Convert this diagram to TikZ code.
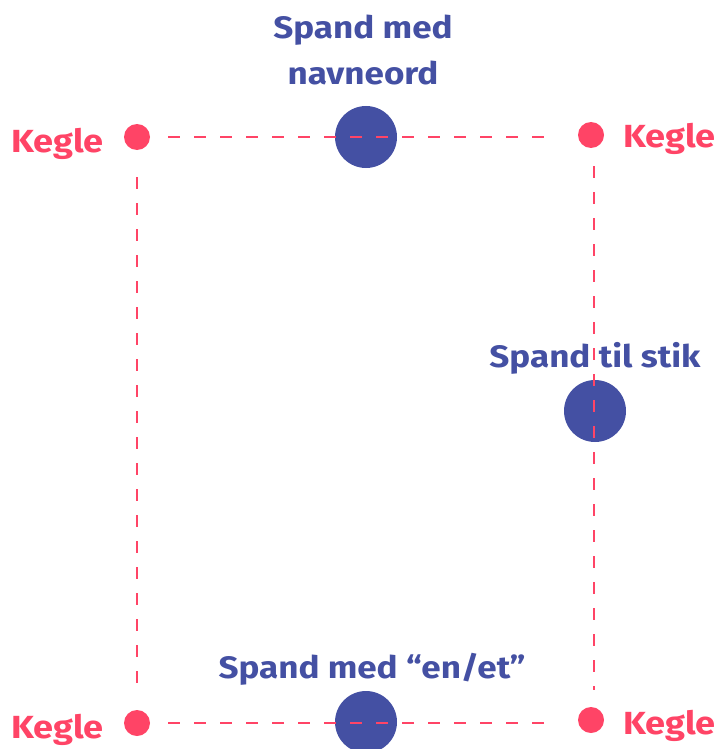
\documentclass[tikz,border=0pt]{standalone}
\usepackage{fontspec}
\setmainfont{Fira Sans}[FakeStretch=1.13]
\definecolor{kred}{HTML}{FF4466}
\definecolor{sblue}{HTML}{4450A3}
\begin{document}
\begin{tikzpicture}[x=1pt,y=-1pt,
  kegle/.style={circle,fill=kred,inner sep=0pt,minimum size=26pt},
  spand/.style={circle,fill=sblue,inner sep=0pt,minimum size=62pt},
  dashline/.style={draw=kred,line width=2.8pt,dash pattern=on 12pt off 14pt},
  klabel/.style={text=kred,font=\fontsize{32}{38}\selectfont\bfseries,inner sep=0pt},
  slabel/.style={text=sblue,font=\fontsize{31}{46}\selectfont\bfseries,inner sep=0pt,align=center}]
\useasboundingbox (0,0) rectangle (721,749);
% spans
\node[spand] (stop) at (366,137) {};
\node[spand] (sright) at (595,411) {};
\node[spand] (sbot) at (366,722) {};
% kegler
\node[kegle] (tl) at (137,137) {};
\node[kegle] (tr) at (591,135) {};
\node[kegle] (bl) at (137,723) {};
\node[kegle] (br) at (591,720) {};
% dashed lines
\draw[dashline,shorten <=18pt,shorten >=21pt] (tl.east) -- (tr.west |- tl.east);
\coordinate (trs) at ([xshift=3pt]tr.center);
\coordinate (brs) at ([xshift=3pt]br.center);
\draw[dashline,shorten <=31pt,shorten >=30pt] (trs) -- (brs);
\draw[dashline,shorten <=27pt,shorten >=22pt] (tl.south) -- (bl.north);
\draw[dashline,shorten <=18pt,shorten >=21pt] (bl.east) -- (br.west |- bl.east);
% labels
\node[klabel,anchor=base east] (ltl) at (104,152) {Kegle};
\node[klabel,anchor=base west] (ltr) at (623,147) {Kegle};
\node[klabel,anchor=base east] (lbl) at (104,738) {Kegle};
\node[klabel,anchor=base west] (lbr) at (623,734) {Kegle};
\node[slabel,anchor=north] (lstop) at (363,15) {Spand med\\navneord};
\node[slabel,anchor=base] (lsright) at (595,367) {Spand til stik};
\node[slabel,anchor=base] (lsbot) at (372,678) {Spand med “en/et”};
\end{tikzpicture}
\end{document}
